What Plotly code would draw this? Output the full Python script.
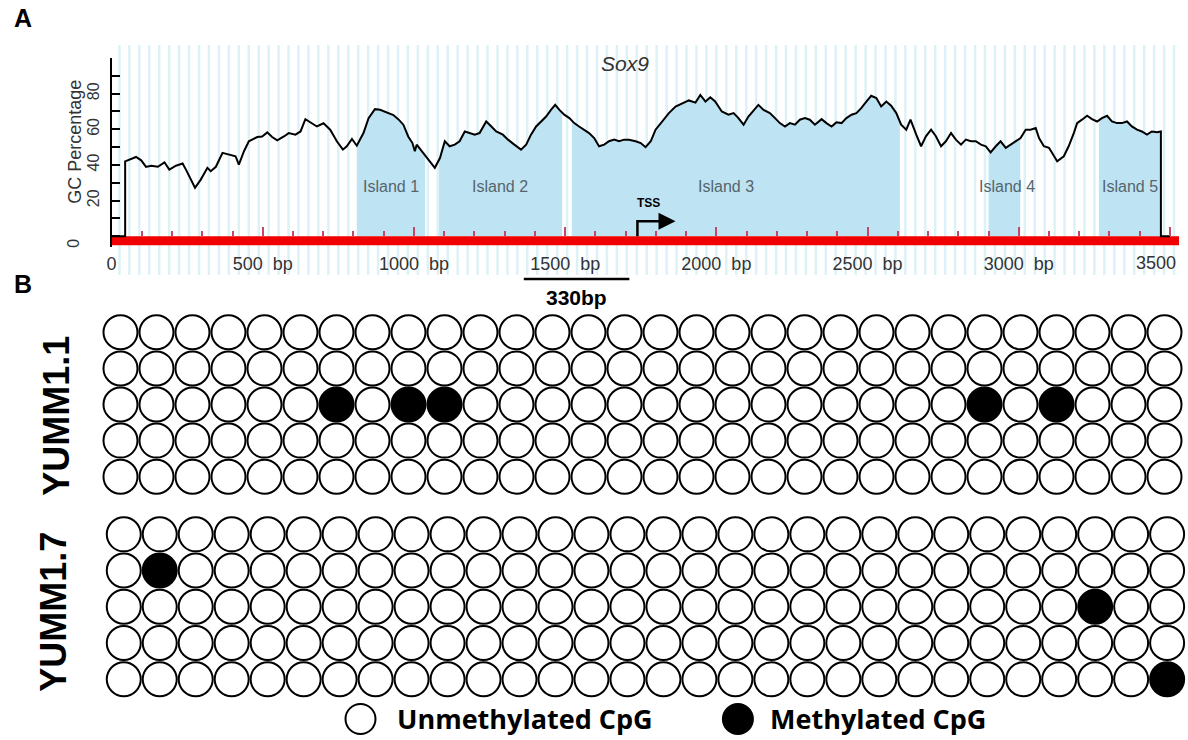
import numpy as np
import plotly.graph_objects as go

W, H = 1188, 740

# ---------------- Panel A: GC content across the Sox9 region ----------------
GC_POS = [45, 81, 98, 114, 131, 153, 175, 191, 213, 235, 246, 262, 276, 295, 317, 328,
          345, 367, 389, 410, 421, 438, 454, 482, 498, 515, 531, 548, 570, 586, 608, 625,
          641, 657, 679, 701, 723, 745, 765, 778, 795, 811, 833, 850, 871, 888, 910, 932,
          948, 965, 981, 995, 1003, 1009, 1031, 1053, 1069, 1086, 1102, 1118, 1135, 1151,
          1168, 1184, 1201, 1217, 1239, 1256, 1272, 1294, 1311, 1332, 1354, 1371, 1387,
          1404, 1420, 1437, 1453, 1467, 1481, 1497, 1514, 1530, 1546, 1563, 1579, 1596,
          1612, 1629, 1645, 1662, 1678, 1695, 1711, 1733, 1750, 1766, 1783, 1799, 1821,
          1843, 1865, 1887, 1909, 1931, 1947, 1964, 1980, 1996, 2018, 2040, 2057, 2073,
          2090, 2106, 2123, 2139, 2156, 2177, 2194, 2210, 2227, 2243, 2260, 2276, 2293,
          2309, 2326, 2348, 2364, 2381, 2397, 2414, 2430, 2447, 2463, 2479, 2496, 2512,
          2529, 2545, 2562, 2578, 2595, 2611, 2628, 2642, 2661, 2677, 2693, 2710, 2726,
          2743, 2759, 2776, 2792, 2809, 2825, 2842, 2858, 2875, 2891, 2907, 2924, 2940,
          2957, 2973, 2990, 3006, 3023, 3039, 3056, 3067, 3083, 3100, 3110, 3127, 3149,
          3165, 3182, 3193, 3209, 3226, 3242, 3259, 3275, 3292, 3308, 3325, 3341, 3358,
          3374, 3391, 3407, 3424, 3440, 3457, 3470]
GC_PCT = [42.0, 44.5, 42.6, 38.9, 39.6, 39.0, 41.5, 37.4, 39.6, 40.8, 37.4, 31.8, 27.2, 31.8,
          38.4, 36.5, 39.0, 46.8, 45.8, 44.9, 40.2, 47.7, 53.3, 55.7, 56.0, 58.3, 55.7, 53.8,
          56.0, 57.9, 57.0, 58.8, 65.7, 63.8, 61.6, 63.4, 59.8, 53.3, 48.6, 50.5, 54.6, 50.8,
          57.9, 66.3, 71.3, 71.0, 69.4, 68.0, 65.7, 62.6, 56.0, 52.3, 47.7, 51.4, 46.7, 42.1,
          38.4, 43.9, 53.3, 50.5, 51.4, 53.3, 58.8, 57.9, 57.0, 57.9, 64.4, 61.6, 58.8, 57.0,
          54.2, 51.4, 48.6, 51.4, 57.0, 61.6, 64.4, 67.2, 70.9, 73.7, 70.9, 68.2, 66.3, 63.5,
          61.6, 59.8, 57.9, 55.1, 50.5, 51.4, 53.3, 54.2, 53.3, 54.2, 54.2, 53.3, 52.3, 50.0,
          53.3, 59.8, 64.4, 69.1, 72.8, 74.3, 76.2, 75.0, 79.3, 75.6, 78.0, 75.6, 70.0, 68.2,
          69.1, 66.3, 62.6, 67.2, 70.9, 73.7, 70.9, 69.1, 66.3, 63.5, 61.6, 63.5, 62.6, 65.4,
          66.3, 65.4, 62.6, 65.7, 63.5, 61.6, 63.9, 63.5, 66.3, 68.2, 69.1, 71.9, 75.6, 78.8,
          77.5, 72.8, 75.6, 73.2, 69.1, 62.6, 59.8, 65.4, 57.0, 50.5, 56.1, 59.8, 56.1, 50.5,
          53.3, 57.9, 54.2, 51.4, 54.2, 53.3, 53.3, 51.4, 50.5, 47.1, 50.5, 53.3, 49.6, 51.4,
          53.3, 55.1, 59.8, 59.8, 60.7, 55.1, 50.5, 49.6, 46.9, 42.1, 44.9, 50.5, 57.9, 63.5,
          65.4, 67.6, 65.7, 64.4, 66.3, 67.6, 64.4, 63.5, 63.5, 64.4, 61.6, 59.8, 58.8, 57.0,
          58.8, 58.3, 58.8]

ISLAND_START = [811, 1083, 1522, 2900, 3265]
ISLAND_END = [1037, 1490, 2607, 3005, 3470]
ISLAND_NAMES = ["Island 1", "Island 2", "Island 3", "Island 4", "Island 5"]
ISLAND_LABEL_X = [925, 1286, 2032, 2962, 3367]
ISLAND_LABEL_Y = 28

TSS_POS = 1739
TSS_ARROW_TIP = 1865
TSS_HEIGHT = 8.5

SEQ_START, SEQ_END = 0, 3530
BASELINE_END = 3500
X_TICK_VALS = [0, 500, 1000, 1500, 2000, 2500, 3000, 3500]
# the last label is set flush right against the end of the sequence bar
X_TICK_TEXT = ["0", "500\u00a0\u00a0bp", "1000\u00a0\u00a0bp", "1500\u00a0\u00a0bp",
               "2000\u00a0\u00a0bp", "2500\u00a0\u00a0bp", "3000\u00a0\u00a0bp", ""]
X_END_LABEL = "3500"
Y_TICK_VALS = [0, 10, 20, 30, 40, 50, 60, 70, 80, 90, 100]
Y_TICK_TEXT = ["", "", "20", "", "40", "", "60", "", "80", "", ""]

# ---------------- Panel B: bisulfite sequencing of CpG sites ----------------
N_SITES = 30
N_CLONES = 5
YUMM11_METH_CLONE = [2, 2, 2, 2, 2]
YUMM11_METH_SITE = [6, 8, 9, 24, 26]
YUMM17_METH_CLONE = [1, 2, 4]
YUMM17_METH_SITE = [1, 27, 29]

FONT = "Liberation Sans, Arial, sans-serif"
FILL_BLUE = "#bee4f4"
STRIPE = "#ddf2f6"
TICK_PINK = "#c24a68"


def fx(p):
    return p / W


def fy(p):
    return 1 - p / H


fig = go.Figure()

# closed GC profile: drops to the baseline at both ends of the window
curve_x = [SEQ_START, GC_POS[0]] + GC_POS + [GC_POS[-1], BASELINE_END]
curve_y = [0, 0] + GC_PCT + [0, 0]

# shaded CpG islands under the profile
pos = np.array(GC_POS, dtype=float)
pct = np.array(GC_PCT, dtype=float)
for a, b in zip(ISLAND_START, ISLAND_END):
    inside = (pos > a) & (pos < b)
    xs = [a] + pos[inside].tolist() + [b]
    ys = [float(np.interp(a, pos, pct))] + pct[inside].tolist() + [float(np.interp(b, pos, pct))]
    fig.add_trace(go.Scatter(x=xs, y=ys, mode="lines", line=dict(width=0),
                             fill="tozeroy", fillcolor=FILL_BLUE, hoverinfo="skip",
                             showlegend=False, xaxis="x", yaxis="y"))

# sequence bar
fig.add_trace(go.Scatter(x=[SEQ_START, SEQ_END], y=[-2.5, -2.5], mode="lines",
                         line=dict(color="#f00000", width=9), showlegend=False,
                         hoverinfo="skip", xaxis="x", yaxis="y"))

# GC percentage profile
fig.add_trace(go.Scatter(x=curve_x, y=curve_y, mode="lines",
                         line=dict(color="black", width=2), showlegend=False,
                         xaxis="x", yaxis="y"))

# TSS bent arrow
fig.add_trace(go.Scatter(x=[TSS_POS, TSS_POS, TSS_ARROW_TIP - 20],
                         y=[0, TSS_HEIGHT, TSS_HEIGHT], mode="lines",
                         line=dict(color="black", width=2.5), showlegend=False,
                         hoverinfo="skip", xaxis="x", yaxis="y"))
fig.add_trace(go.Scatter(x=[TSS_ARROW_TIP], y=[TSS_HEIGHT], mode="markers",
                         marker=dict(symbol="arrow-right", size=17, color="black",
                                     line=dict(width=0)),
                         showlegend=False, hoverinfo="skip", xaxis="x", yaxis="y"))

# ---------------- methylation grids ----------------
def add_grid(meth_clone, meth_site, xa, ya):
    meth = set(zip(meth_clone, meth_site))
    ux, uy, mx, my = [], [], [], []
    for c in range(N_CLONES):
        for s in range(N_SITES):
            if (c, s) in meth:
                mx.append(s)
                my.append(c)
            else:
                ux.append(s)
                uy.append(c)
    fig.add_trace(go.Scatter(x=ux, y=uy, mode="markers", cliponaxis=False,
                             marker=dict(symbol="circle", size=34, color="white",
                                         line=dict(color="black", width=2)),
                             showlegend=False, xaxis=xa, yaxis=ya))
    fig.add_trace(go.Scatter(x=mx, y=my, mode="markers", cliponaxis=False,
                             marker=dict(symbol="circle", size=34, color="black",
                                         line=dict(color="black", width=2)),
                             showlegend=False, xaxis=xa, yaxis=ya))


add_grid(YUMM11_METH_CLONE, YUMM11_METH_SITE, "x2", "y2")
add_grid(YUMM17_METH_CLONE, YUMM17_METH_SITE, "x3", "y3")

# ---------------- background stripes of the GC plot ----------------
shapes = []
for sx in np.arange(26, SEQ_END, 32.9):
    shapes.append(dict(type="line", xref="x", yref="paper", x0=sx, x1=sx,
                       y0=fy(275), y1=fy(45), layer="below",
                       line=dict(color=STRIPE, width=2.5)))

# scale bar
shapes.append(dict(type="line", xref="paper", yref="paper", x0=fx(521), x1=fx(627),
                   y0=fy(279), y1=fy(279), line=dict(color="black", width=2.5)))

# legend symbols
for cx, fill in [(357, "white"), (736, "black")]:
    shapes.append(dict(type="circle", xref="paper", yref="paper",
                       xsizemode="pixel", ysizemode="pixel",
                       xanchor=fx(cx), yanchor=fy(719), x0=-15, x1=15, y0=-15, y1=15,
                       fillcolor=fill, line=dict(color="black", width=2)))

annotations = [
    dict(text="<b>A</b>", x=fx(18), y=fy(18), font=dict(size=25, family=FONT, color="black")),
    dict(text="<b>B</b>", x=fx(18), y=fy(284), font=dict(size=25, family=FONT, color="black")),
    dict(text="<i>Sox9</i>", x=fx(623), y=fy(63), font=dict(size=21, family=FONT, color="#333")),
    dict(text="GC Percentage", x=fx(70), y=fy(142), textangle=-90,
         font=dict(size=18, family=FONT, color="#333")),
    dict(text="0", x=fx(69), y=fy(243), textangle=-90,
         font=dict(size=16, family=FONT, color="#333")),
    dict(text=X_END_LABEL, x=fx(1178), y=fy(263), xanchor="right",
         font=dict(size=18, family=FONT, color="#333")),
    dict(text="<b>TSS</b>", xref="x", yref="y", x=TSS_POS + 38, y=18.4,
         font=dict(size=12, family=FONT, color="black")),
    dict(text="<b>330bp</b>", x=fx(574), y=fy(297),
         font=dict(size=21, family=FONT, color="black")),
    dict(text="<b>YUMM1.1</b>", x=fx(51), y=fy(416), textangle=-90,
         font=dict(size=36, family=FONT, color="black")),
    dict(text="<b>YUMM1.7</b>", x=fx(48), y=fy(612), textangle=-90,
         font=dict(size=36, family=FONT, color="black")),
    dict(text="<b>Unmethylated CpG</b>", x=fx(392), y=fy(718), xanchor="left",
         font=dict(size=27, family="Open Sans, sans-serif", color="black")),
    dict(text="<b>Methylated CpG</b>", x=fx(766), y=fy(718), xanchor="left",
         font=dict(size=27, family="Open Sans, sans-serif", color="black")),
]
for name, lx in zip(ISLAND_NAMES, ISLAND_LABEL_X):
    annotations.append(dict(text=name, xref="x", yref="y", x=lx, y=ISLAND_LABEL_Y,
                            font=dict(size=16, family=FONT, color="#56646b")))
for a in annotations:
    a.setdefault("xref", "paper")
    a.setdefault("yref", "paper")
    a.setdefault("showarrow", False)
    a.setdefault("xanchor", "center")
    a.setdefault("yanchor", "middle")

fig.update_layout(
    width=W, height=H,
    margin=dict(l=0, r=0, t=0, b=0),
    paper_bgcolor="white",
    plot_bgcolor="rgba(0,0,0,0)",
    showlegend=False,
    shapes=shapes,
    annotations=annotations,
    xaxis=dict(domain=[fx(107), fx(1179)], range=[SEQ_START, SEQ_END],
               anchor="free", position=fy(236.3),
               tickmode="array", tickvals=X_TICK_VALS, ticktext=X_TICK_TEXT,
               ticks="inside", ticklen=9, tickwidth=1.5, tickcolor=TICK_PINK,
               minor=dict(tickmode="linear", tick0=0, dtick=100, ticks="inside",
                          ticklen=5, tickwidth=1.5, tickcolor=TICK_PINK, showgrid=False),
               ticklabelstandoff=15,
               tickfont=dict(size=18, family=FONT, color="#333"),
               showline=False, showgrid=False, zeroline=False, fixedrange=True),
    yaxis=dict(domain=[fy(247), fy(58)], range=[-6, 100], anchor="x",
               tickmode="array", tickvals=Y_TICK_VALS, ticktext=Y_TICK_TEXT,
               ticks="inside", ticklen=8, tickwidth=1.5, tickcolor="black",
               tickangle=-90, ticklabelstandoff=4,
               tickfont=dict(size=16, family=FONT, color="#333"),
               showline=True, linecolor="black", linewidth=2,
               showgrid=False, zeroline=False, fixedrange=True),
    xaxis2=dict(domain=[fx(97.9), fx(1182.5)], range=[-0.5, N_SITES - 0.5],
                anchor="y2", visible=False, fixedrange=True),
    yaxis2=dict(domain=[fy(494.75), fy(314.25)], range=[N_CLONES - 0.5, -0.5],
                anchor="x2", visible=False, fixedrange=True),
    xaxis3=dict(domain=[fx(101.2), fx(1185.1)], range=[-0.5, N_SITES - 0.5],
                anchor="y3", visible=False, fixedrange=True),
    yaxis3=dict(domain=[fy(697.4), fy(516.2)], range=[N_CLONES - 0.5, -0.5],
                anchor="x3", visible=False, fixedrange=True),
)

fig.write_html("out.html")
